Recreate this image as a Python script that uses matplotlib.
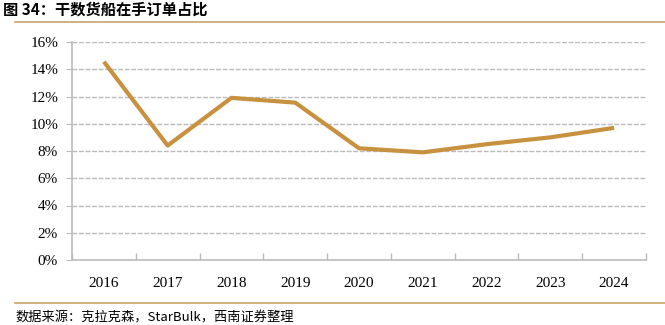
import matplotlib
matplotlib.use("Agg")
import matplotlib.pyplot as plt
from matplotlib.lines import Line2D
from matplotlib.ticker import FixedLocator, NullFormatter

years = ["2016", "2017", "2018", "2019", "2020", "2021", "2022", "2023", "2024"]
share = [14.55, 8.4, 11.9, 11.55, 8.2, 7.9, 8.5, 9.0, 9.7]
yticks = [0, 2, 4, 6, 8, 10, 12, 14, 16]
title = "图 34：干数货船在手订单占比"
source = "数据来源：克拉克森，StarBulk，西南证券整理"

fig = plt.figure(figsize=(6.65, 3.25), dpi=100)
ax = fig.add_axes([72/665, 1-260/325, (646-72)/665, (260-42)/325])

x = list(range(len(years)))
ax.plot(x, share, color="#C8913F", lw=3, solid_capstyle="butt", zorder=3)
ax.set_xlim(-0.5, len(years)-0.5)
ax.set_ylim(0, 16)
ax.set_yticks(yticks)
ax.set_yticklabels([f"{v}%" for v in yticks], fontfamily="Liberation Serif", fontsize=11)
ax.set_xticks(x)
ax.set_xticklabels(years, fontfamily="Liberation Serif", fontsize=11)
ax.tick_params(axis="x", length=0, pad=12)
ax.xaxis.set_minor_locator(FixedLocator([i+0.5 for i in range(-1, len(years))]))
ax.xaxis.set_minor_formatter(NullFormatter())
ax.tick_params(axis="x", which="minor", length=5, direction="in", color="#BBBBBB", width=1)
ax.tick_params(axis="y", length=4, direction="out", color="#BBBBBB", pad=6)
for g in yticks[1:]:
    ax.axhline(g, color="#BBBBBB", lw=1, ls=(0, (3.5, 1.2)), zorder=1)
for s in ["top", "right"]:
    ax.spines[s].set_visible(False)
for s in ["left", "bottom"]:
    ax.spines[s].set_color("#BBBBBB")
    ax.spines[s].set_linewidth(1.2)

fig.text(3/665, 1-10/325, title, fontfamily=["Noto Sans CJK SC", "DejaVu Sans"],
         fontweight="bold", fontsize=11, va="center", ha="left")
fig.add_artist(Line2D([15/665, 1], [1-22/325, 1-22/325], color="#C8A46A", lw=1.2))
fig.add_artist(Line2D([15/665, 1], [1-303/325, 1-303/325], color="#C8A46A", lw=1.2))
fig.text(15/665, 1-318/325, source, fontfamily=["Noto Sans CJK SC", "DejaVu Sans"],
         fontstyle="italic", fontsize=9.5, va="center", ha="left")

fig.savefig("out.png", dpi=100)
